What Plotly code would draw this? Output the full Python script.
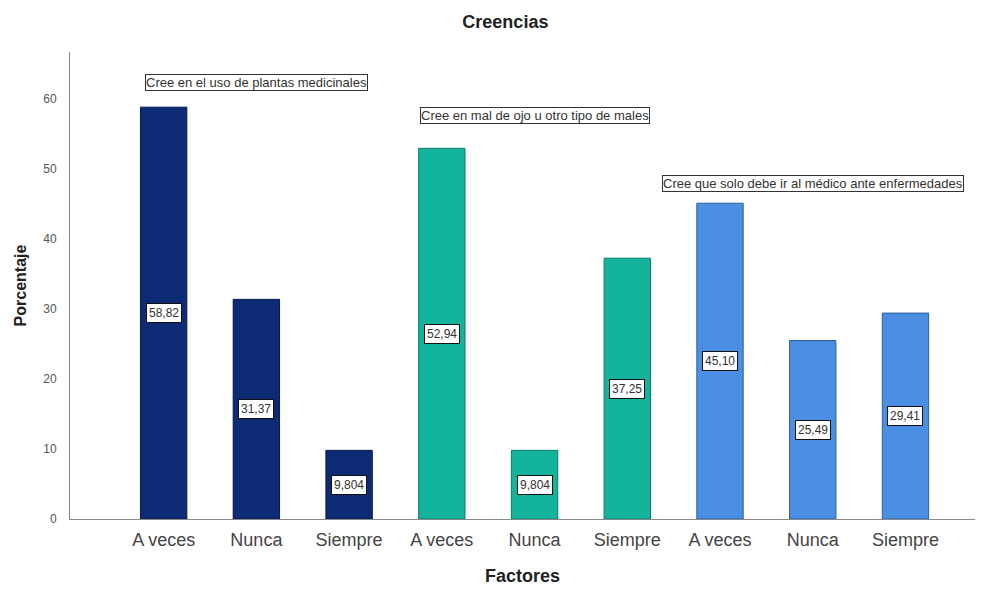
import plotly.graph_objects as go

# Data
categories = ["A veces", "Nunca", "Siempre",
              "A veces", "Nunca", "Siempre",
              "A veces", "Nunca", "Siempre"]
values = [58.82, 31.37, 9.804, 52.94, 9.804, 37.25, 45.10, 25.49, 29.41]
value_labels = ["58,82", "31,37", "9,804", "52,94", "9,804", "37,25", "45,10", "25,49", "29,41"]
groups = ["Cree en el uso de plantas medicinales",
          "Cree en mal de ojo u otro tipo de males",
          "Cree que solo debe ir al médico ante enfermedades"]
group_label_y = [62.3, 57.6, 47.9]
y_ticks = [0, 10, 20, 30, 40, 50, 60]

group_colors = ["#0d2a74", "#14b39b", "#4a8fe3"]
group_lines = ["#07184a", "#0b7a69", "#2f5f9e"]

FONT = "Arial, Liberation Sans"

x_pos = list(range(len(categories)))
bar_colors = [group_colors[i // 3] for i in x_pos]
line_colors = [group_lines[i // 3] for i in x_pos]

fig = go.Figure()
fig.add_trace(go.Bar(
    x=x_pos, y=values, width=0.5,
    marker=dict(color=bar_colors, line=dict(color=line_colors, width=1)),
    hoverinfo="skip", showlegend=False,
))

annotations = []
# Value labels centred in each bar
for xi, v, t in zip(x_pos, values, value_labels):
    annotations.append(dict(
        x=xi, y=v / 2, text=t, showarrow=False,
        font=dict(family=FONT, size=12, color="#333"),
        bgcolor="white", bordercolor="#111", borderwidth=1, borderpad=2,
    ))
# Group headings above each set of bars
for gi, (g, gy) in enumerate(zip(groups, group_label_y)):
    annotations.append(dict(
        x=gi * 3 + 1, y=gy, text=g, showarrow=False,
        font=dict(family=FONT, size=13, color="#333"),
        bgcolor="white", bordercolor="#333", borderwidth=1, borderpad=0,
    ))

fig.update_layout(
    width=989, height=590,
    margin=dict(l=70, r=14, t=52, b=71),
    paper_bgcolor="white", plot_bgcolor="white",
    title=dict(text="<b>Creencias</b>", x=0.511, xanchor="center",
               y=0.963, yanchor="middle",
               font=dict(family=FONT, size=18, color="#222")),
    annotations=annotations,
    bargap=0.5,
)
fig.update_xaxes(
    range=[-1.01, 8.75], tickvals=x_pos, ticktext=categories,
    showline=True, linecolor="#888", linewidth=1, showgrid=False, ticks="",
    tickfont=dict(family=FONT, size=18, color="#444"),
    ticklabelstandoff=4, automargin=False,
    title=dict(text="<b>Factores</b>", standoff=20,
               font=dict(family=FONT, size=18, color="#222")),
    zeroline=False,
)
fig.update_yaxes(
    range=[0, 66.7], tickvals=y_ticks,
    showline=True, linecolor="#888", linewidth=1, showgrid=False, ticks="",
    tickfont=dict(family=FONT, size=12, color="#555"),
    ticklabelstandoff=10, automargin=False,
    title=dict(text="<b>Porcentaje</b>", standoff=12,
               font=dict(family=FONT, size=16, color="#222")),
    zeroline=False,
)

fig.write_html("out.html")
